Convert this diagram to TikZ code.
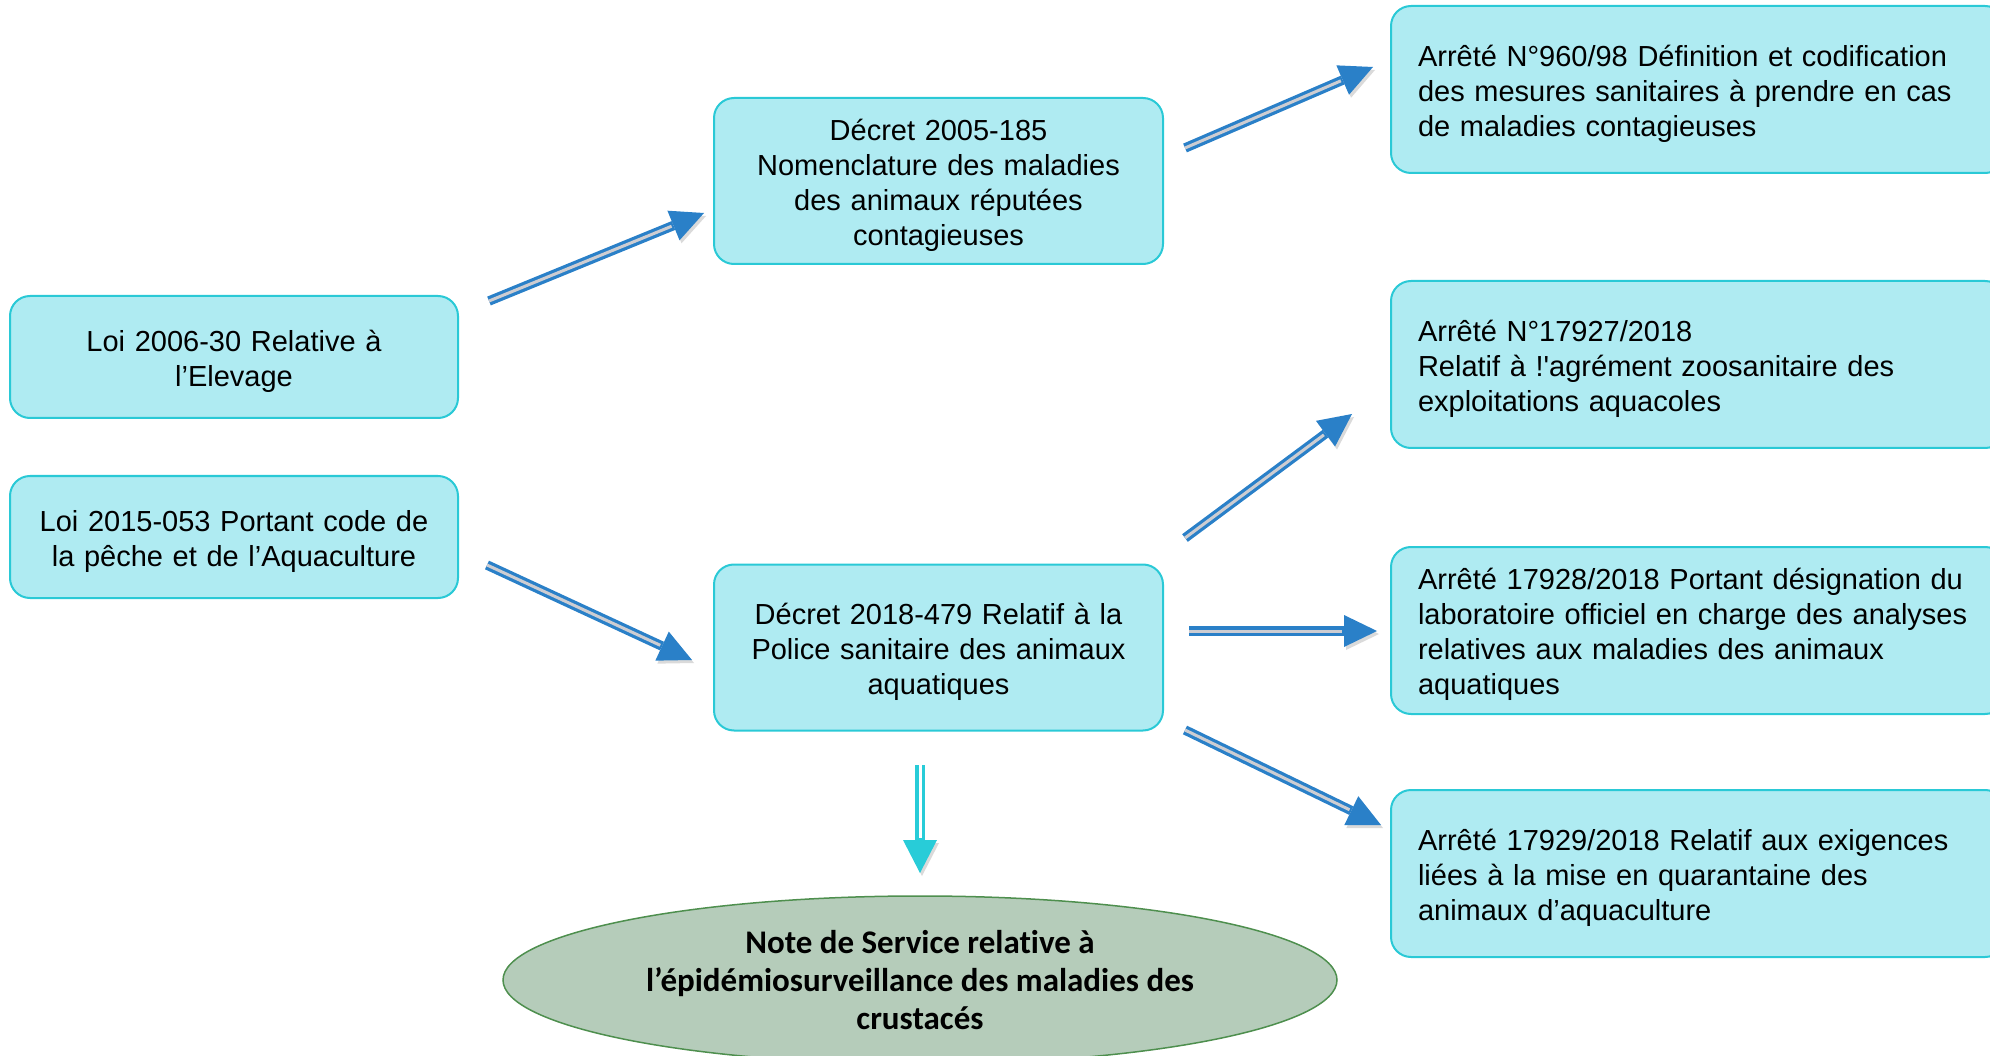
\documentclass[tikz,border=0pt]{standalone}
\usepackage{fontspec}
\setmainfont{Liberation Sans}[Ligatures={TeXOff,NoCommon}]
\newfontfamily\notefont{Carlito}[Ligatures={TeXOff,NoCommon}]
\usetikzlibrary{arrows.meta,shapes.geometric}
\definecolor{boxfill}{HTML}{AFEBF2}
\definecolor{boxline}{HTML}{2AC9D6}
\definecolor{ablue}{HTML}{2A80C8}
\definecolor{agray}{HTML}{CDCDD2}
\definecolor{acyan}{HTML}{28CCD8}
\definecolor{ellfill}{HTML}{B5CCBA}
\definecolor{ellline}{HTML}{4E8F4E}
\definecolor{ashadow}{HTML}{DADADA}
\tikzset{
  box/.style={draw=boxline, fill=boxfill, line width=2pt, rounded corners=20pt,
    font=\fontsize{29}{35}\selectfont, inner ysep=0pt,
    execute at begin node={\rule{0pt}{30pt}}},
  lbox/.style={box, align=center, text width=420pt, inner xsep=14pt,
    minimum width=448pt, minimum height=122pt},
  cbox/.style={box, align=center, text width=421pt, inner xsep=14pt,
    minimum width=449pt, minimum height=166pt},
  rbox/.style={box, align=left, text width=560pt, inner xsep=27pt,
    minimum width=614pt, minimum height=167pt},
  arrshadow/.style={preaction={draw=ashadow, transform canvas={shift={(2pt,-3pt)}}}},
  arr/.style={line width=9.5pt, draw=ablue,
    -{Triangle[length=33pt,width=32pt,line width=0pt]}, arrshadow,
    postaction={draw=agray, line width=3pt, -, shorten >=35pt}},
  darr/.style={line width=10pt, draw=acyan,
    -{Triangle[length=33pt,width=34pt,line width=0pt]}, arrshadow,
    postaction={draw=white, line width=3pt, -, shorten >=35pt}},
  notebox/.style={ellipse, draw=ellline, line width=1.5pt, fill=ellfill,
    minimum width=834pt, minimum height=168pt, inner sep=0pt, align=center,
    font=\notefont\bfseries\fontsize{33}{38}\selectfont}
}
\begin{document}
\begin{tikzpicture}[x=1pt,y=-1pt]
\useasboundingbox (0,0) rectangle (1990,1056);

\node[lbox] (loi1) at (234,357) {Loi 2006-30 Relative à\\l’Elevage};
\node[lbox] (loi2) at (234,537) {Loi 2015-053 Portant code de\\la pêche et de l’Aquaculture};
\node[cbox] (dec1) at (938.5,181) {Décret 2005-185\\Nomenclature des maladies\\des animaux réputées\\contagieuses};
\node[cbox] (dec2) at (938.5,647.5) {Décret 2018-479 Relatif à la\\Police sanitaire des animaux\\aquatiques};
\node[rbox] (ar1) at (1698,89.5) {Arrêté N°960/98 Définition et codification\\des mesures sanitaires à prendre en cas\\de maladies contagieuses};
\node[rbox] (ar2) at (1698,364.5) {Arrêté N°17927/2018\\Relatif à !'agrément zoosanitaire des\\exploitations aquacoles};
\node[rbox] (ar3) at (1698,630.5) {Arrêté 17928/2018 Portant désignation du\\laboratoire officiel en charge des analyses\\relatives aux maladies des animaux\\aquatiques};
\node[rbox] (ar4) at (1698,873.5) {Arrêté 17929/2018 Relatif aux exigences\\liées à la mise en quarantaine des\\animaux d’aquaculture};
\node[notebox] (note) at (920,980) {Note de Service relative à\\l’épidémiosurveillance des maladies des\\crustacés};

% connector end points (arrows float between the nodes)
\coordinate (s1) at (489,301);  \coordinate (t1) at (704,213);
\coordinate (s2) at (487,565);  \coordinate (t2) at (692,660);
\coordinate (s3) at (1185,148); \coordinate (t3) at (1373,67);
\coordinate (s4) at (1185,538); \coordinate (t4) at (1352,414);
\coordinate (s5) at (1189,631); \coordinate (t5) at (1377,631);
\coordinate (s6) at (1185,730); \coordinate (t6) at (1381,825);
\coordinate (s7) at (920,765);  \coordinate (t7) at (920,873);

\draw[arr] (s1) -- (t1);
\draw[arr] (s2) -- (t2);
\draw[arr] (s3) -- (t3);
\draw[arr] (s4) -- (t4);
\draw[arr] (s5) -- (t5);
\draw[arr] (s6) -- (t6);
\draw[darr] (s7) -- (t7);
\end{tikzpicture}
\end{document}
